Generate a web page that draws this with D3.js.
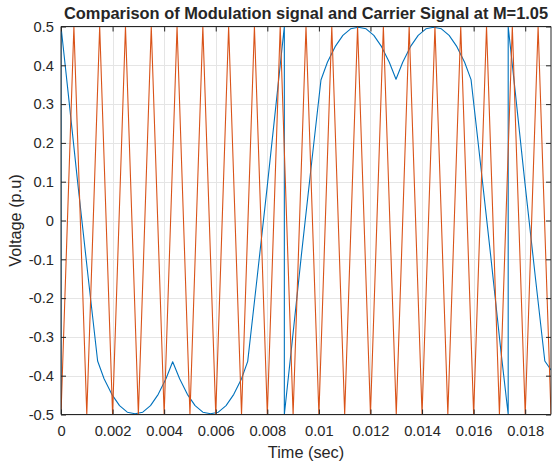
<!DOCTYPE html>
<html>
<head>
<meta charset="utf-8">
<script src="https://cdn.jsdelivr.net/npm/d3@7"></script>
<style>
  html, body { margin: 0; padding: 0; background: #ffffff; }
  svg { display: block; }
  text { font-family: "Liberation Sans", Arial, Helvetica, sans-serif; fill: #262626; }
</style>
</head>
<body>
<svg id="chart" width="554" height="467"></svg>
<script>
// ---------------- data ----------------
const chartTitle = "Comparison of Modulation signal and Carrier Signal at M=1.05";
const xLabel = "Time (sec)";
const yLabel = "Voltage (p.u)";

const xTicks = [0, 0.002, 0.004, 0.006, 0.008, 0.010, 0.012, 0.014, 0.016, 0.018];
const xTickLabels = ["0", "0.002", "0.004", "0.006", "0.008", "0.01", "0.012", "0.014", "0.016", "0.018"];
const yTicks = [-0.5, -0.4, -0.3, -0.2, -0.1, 0, 0.1, 0.2, 0.3, 0.4, 0.5];
const yTickLabels = ["-0.5", "-0.4", "-0.3", "-0.2", "-0.1", "0", "0.1", "0.2", "0.3", "0.4", "0.5"];

// modulation signal (blue)
const modTime = [
  0, 0, 0.00026, 0.00066, 0.00106, 0.00142,
  0.00167, 0.00197, 0.00227, 0.00257, 0.00287, 0.00317, 0.00347, 0.00377, 0.00407, 0.00433,
  0.00460, 0.00490, 0.00520, 0.00550, 0.00580, 0.00610, 0.00640, 0.00670, 0.00700, 0.00724,
  0.00760, 0.00800, 0.00840, 0.00866, 0.00866, 0.00892, 0.00932, 0.00972, 0.01008,
  0.01033, 0.01063, 0.01093, 0.01123, 0.01153, 0.01183, 0.01213, 0.01243, 0.01273, 0.01299,
  0.01325, 0.01355, 0.01385, 0.01415, 0.01445, 0.01475, 0.01505, 0.01535, 0.01565, 0.01590,
  0.01626, 0.01666, 0.01706, 0.01734, 0.01734, 0.01760, 0.01800, 0.01840, 0.01876, 0.01900
];
const modValue = [
  -0.5, 0.5, 0.34, 0.09, -0.15, -0.362,
  -0.408, -0.448, -0.477, -0.494, -0.498, -0.494, -0.477, -0.448, -0.408, -0.364,
  -0.408, -0.448, -0.477, -0.494, -0.498, -0.494, -0.477, -0.448, -0.408, -0.363,
  -0.15, 0.09, 0.338, 0.5, -0.5, -0.34, -0.09, 0.15, 0.362,
  0.408, 0.448, 0.477, 0.494, 0.498, 0.494, 0.477, 0.448, 0.408, 0.364,
  0.408, 0.448, 0.477, 0.494, 0.498, 0.494, 0.477, 0.448, 0.408, 0.363,
  0.15, -0.09, -0.338, -0.5, 0.5, 0.34, 0.09, -0.15, -0.362, -0.385
];

// carrier signal (orange), triangle vertices
const carrierTime = [
  0, 0.0005, 0.001, 0.0015, 0.002, 0.0025, 0.003, 0.0035, 0.004, 0.0045,
  0.005, 0.0055, 0.006, 0.0065, 0.007, 0.0075, 0.008, 0.0085, 0.009, 0.0095,
  0.010, 0.0105, 0.011, 0.0115, 0.012, 0.0125, 0.013, 0.0135, 0.014, 0.0145,
  0.015, 0.0155, 0.016, 0.0165, 0.017, 0.0175, 0.018, 0.0185, 0.019
];
const carrierValue = [
  -0.5, 0.5, -0.5, 0.5, -0.5, 0.5, -0.5, 0.5, -0.5, 0.5,
  -0.5, 0.5, -0.5, 0.5, -0.5, 0.5, -0.5, 0.5, -0.5, 0.5,
  -0.5, 0.5, -0.5, 0.5, -0.5, 0.5, -0.5, 0.5, -0.5, 0.5,
  -0.5, 0.5, -0.5, 0.5, -0.5, 0.5, -0.5, 0.5, -0.5
];

// ---------------- layout ----------------
const margin = { left: 61, top: 26.5, right: 551, bottom: 414.5 };
const svg = d3.select("#chart");

const x = d3.scaleLinear().domain([0, 0.019]).range([margin.left, margin.right]);
const y = d3.scaleLinear().domain([-0.5, 0.5]).range([margin.bottom, margin.top]);

const axisColor = "#262626";
const gridColor = "#e5e5e5";

// grid
const grid = svg.append("g");
grid.selectAll("line.gx").data(xTicks).enter().append("line")
  .attr("x1", d => Math.round(x(d)) + 0.5).attr("x2", d => Math.round(x(d)) + 0.5)
  .attr("y1", margin.top).attr("y2", margin.bottom)
  .attr("stroke", gridColor).attr("stroke-width", 1);
grid.selectAll("line.gy").data(yTicks).enter().append("line")
  .attr("y1", d => Math.round(y(d)) + 0.5).attr("y2", d => Math.round(y(d)) + 0.5)
  .attr("x1", margin.left).attr("x2", margin.right)
  .attr("stroke", gridColor).attr("stroke-width", 1);

// clip
svg.append("clipPath").attr("id", "clip").append("rect")
  .attr("x", margin.left).attr("y", margin.top - 1)
  .attr("width", margin.right - margin.left).attr("height", margin.bottom - margin.top + 2);

const line = d3.line().x(d => x(d[0])).y(d => y(d[1]));
const plot = svg.append("g").attr("clip-path", "url(#clip)");

plot.append("path")
  .datum(modTime.map((t, i) => [t, modValue[i]]))
  .attr("d", line).attr("fill", "none")
  .attr("stroke", "#0072BD").attr("stroke-width", 1.1).attr("stroke-linejoin", "round");

plot.append("path")
  .datum(carrierTime.map((t, i) => [t, carrierValue[i]]))
  .attr("d", line).attr("fill", "none")
  .attr("stroke", "#D95319").attr("stroke-width", 1.1).attr("stroke-linejoin", "miter");

// axes (box with ticks inside)
const tickLen = 5;
const xAxisBottom = d3.axisBottom(x).tickValues(xTicks).tickSize(-tickLen).tickPadding(11)
  .tickFormat((d, i) => xTickLabels[i]);
const xAxisTop = d3.axisTop(x).tickValues(xTicks).tickSize(-tickLen).tickFormat("");
const yAxisLeft = d3.axisLeft(y).tickValues(yTicks).tickSize(-tickLen).tickPadding(7)
  .tickFormat((d, i) => yTickLabels[i]);
const yAxisRight = d3.axisRight(y).tickValues(yTicks).tickSize(-tickLen).tickFormat("");

function styleAxis(g) {
  g.select(".domain").attr("stroke", axisColor).attr("stroke-width", 1);
  g.selectAll(".tick line").attr("stroke", axisColor).attr("stroke-width", 1);
  g.selectAll(".tick text").attr("fill", axisColor)
    .style("font-size", "14.7px").style("font-family", "'Liberation Sans', Arial, sans-serif");
}

svg.append("g").attr("transform", `translate(0,${margin.bottom})`).call(xAxisBottom)
  .call(g => g.select(".domain").attr("d", `M${margin.left},0H${margin.right}`)).call(styleAxis);
svg.append("g").attr("transform", `translate(0,${margin.top})`).call(xAxisTop)
  .call(g => g.select(".domain").attr("d", `M${margin.left},0H${margin.right}`)).call(styleAxis);
svg.append("g").attr("transform", `translate(${margin.left},0)`).call(yAxisLeft)
  .call(g => g.select(".domain").attr("d", `M0,${margin.top}V${margin.bottom}`)).call(styleAxis);
svg.append("g").attr("transform", `translate(${margin.right},0)`).call(yAxisRight)
  .call(g => g.select(".domain").attr("d", `M0,${margin.top}V${margin.bottom}`)).call(styleAxis);

// labels
svg.append("text").attr("x", (margin.left + margin.right) / 2).attr("y", 458)
  .attr("text-anchor", "middle").style("font-size", "16.3px").text(xLabel);
svg.append("text")
  .attr("transform", `translate(21,${(margin.top + margin.bottom) / 2}) rotate(-90)`)
  .attr("text-anchor", "middle").style("font-size", "16.3px").text(yLabel);
svg.append("text").attr("x", (margin.left + margin.right) / 2).attr("y", 18.5)
  .attr("text-anchor", "middle").style("font-size", "16.4px").style("font-weight", "bold")
  .attr("fill", "#000000").text(chartTitle);
</script>
</body>
</html>
